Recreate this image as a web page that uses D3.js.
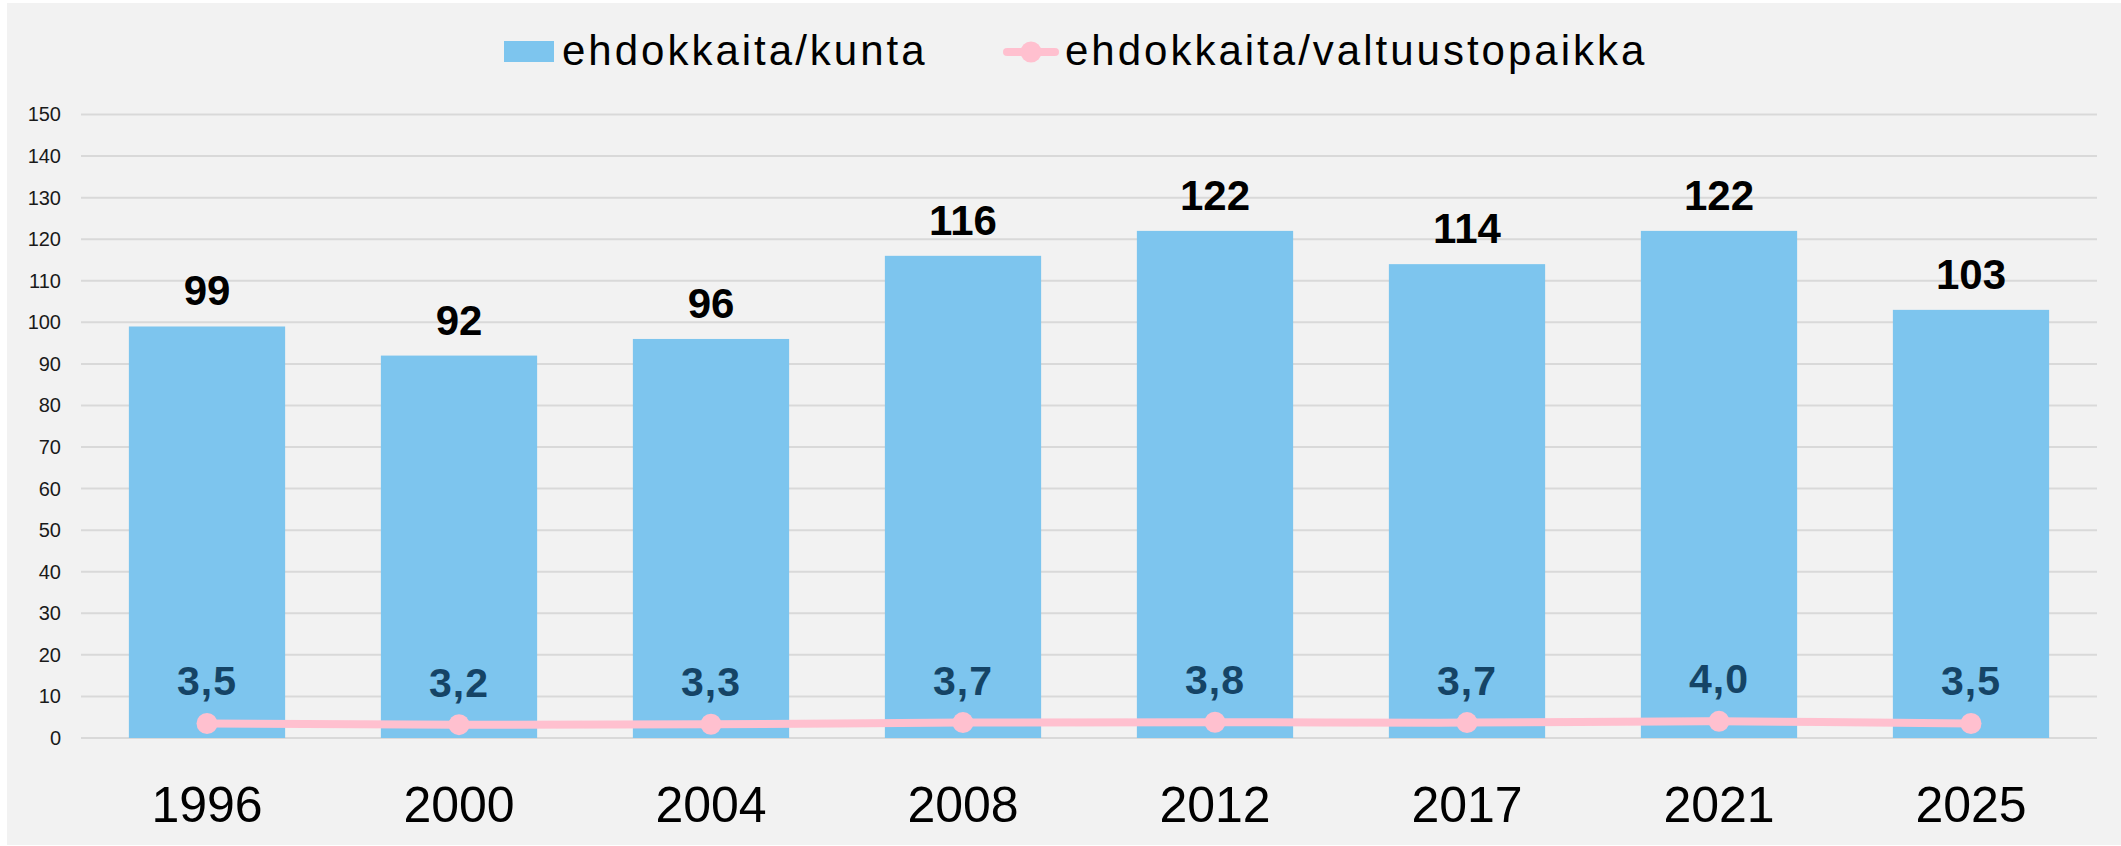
<!DOCTYPE html>
<html>
<head>
<meta charset="utf-8">
<script src="https://cdn.jsdelivr.net/npm/d3@7"></script>
<style>
  html, body { margin: 0; padding: 0; background: #ffffff; }
  svg { display: block; font-family: "Liberation Sans", Arial, sans-serif; }
</style>
</head>
<body>
<svg id="chart"></svg>
<script>
// data
const years = ['1996', '2000', '2004', '2008', '2012', '2017', '2021', '2025'];
const perMunicipality = [99, 92, 96, 116, 122, 114, 122, 103];
const perSeat = [3.5, 3.2, 3.3, 3.7, 3.8, 3.7, 4.0, 3.5];
const yTicks = [0, 10, 20, 30, 40, 50, 60, 70, 80, 90, 100, 110, 120, 130, 140, 150];
const seriesNames = ['ehdokkaita/kunta', 'ehdokkaita/valtuustopaikka'];

const W = 2121, H = 846;
const barColor = '#7dc5ee';
const lineColor = '#ffc0cf';
const seatLabelColor = '#154466';

const fi = d3.formatLocale({decimal: ',', thousands: ' ', grouping: [3], currency: ['', ' €']});
const fmt1 = fi.format('.1f');

const svg = d3.select('#chart')
    .attr('width', W)
    .attr('height', H);

// background panel
svg.append('rect')
    .attr('x', 7)
    .attr('y', 3)
    .attr('width', W - 7)
    .attr('height', H - 4)
    .attr('fill', '#f2f2f2');

const xscale = d3.scaleBand()
    .domain(years)
    .range([81, 2097])
    .paddingInner(0.38)
    .paddingOuter(0.19);

const yscale = d3.scaleLinear()
    .domain([0, 150])
    .range([738, 114.5]);

// gridlines
svg.append('g')
    .selectAll('line')
    .data(yTicks)
    .join('line')
    .attr('x1', 81)
    .attr('x2', 2097)
    .attr('y1', d => yscale(d))
    .attr('y2', d => yscale(d))
    .attr('stroke', '#d9d9d9')
    .attr('stroke-width', 2);

// y axis labels
const yaxis = d3.axisLeft(yscale)
    .tickValues(yTicks)
    .tickSize(0)
    .tickPadding(20);

const yaxis_group = svg.append('g')
    .attr('transform', 'translate(81, 0)')
    .call(yaxis);
yaxis_group.select('.domain').remove();
yaxis_group.selectAll('text')
    .attr('font-size', 20)
    .attr('font-family', '"Liberation Sans", Arial, sans-serif')
    .attr('fill', '#1a1a1a');

// x axis labels
const xaxis = d3.axisBottom(xscale)
    .tickSize(0)
    .tickPadding(48);

const xaxis_group = svg.append('g')
    .attr('transform', `translate(0, ${yscale(0)})`)
    .call(xaxis);
xaxis_group.select('.domain').remove();
xaxis_group.selectAll('text')
    .attr('font-size', 50)
    .attr('font-family', '"Liberation Sans", Arial, sans-serif')
    .attr('fill', '#000');

// bars
const barData = years.map((y, i) => ({year: y, value: perMunicipality[i]}));
svg.append('g')
    .selectAll('rect')
    .data(barData)
    .join('rect')
    .attr('x', d => xscale(d.year))
    .attr('y', d => yscale(d.value))
    .attr('width', xscale.bandwidth())
    .attr('height', d => yscale(0) - yscale(d.value))
    .attr('fill', barColor);

svg.append('g')
    .selectAll('text')
    .data(barData)
    .join('text')
    .attr('x', d => xscale(d.year) + xscale.bandwidth() / 2)
    .attr('y', d => yscale(d.value) - 21)
    .attr('text-anchor', 'middle')
    .attr('font-size', 42)
    .attr('font-weight', 'bold')
    .attr('fill', '#000')
    .text(d => d.value);

// line
const lineData = years.map((y, i) => ({year: y, value: perSeat[i]}));
const cx = d => xscale(d.year) + xscale.bandwidth() / 2;

const line = d3.line()
    .x(cx)
    .y(d => yscale(d.value))
    .curve(d3.curveCatmullRom.alpha(0.5));

svg.append('path')
    .attr('d', line(lineData))
    .attr('fill', 'none')
    .attr('stroke', lineColor)
    .attr('stroke-width', 8)
    .attr('stroke-linecap', 'round');

svg.append('g')
    .selectAll('circle')
    .data(lineData)
    .join('circle')
    .attr('cx', cx)
    .attr('cy', d => yscale(d.value))
    .attr('r', 10.5)
    .attr('fill', lineColor);

svg.append('g')
    .selectAll('text')
    .data(lineData)
    .join('text')
    .attr('x', cx)
    .attr('y', d => yscale(d.value) - 28)
    .attr('text-anchor', 'middle')
    .attr('font-size', 41)
    .attr('font-weight', 'bold')
    .attr('letter-spacing', 1)
    .attr('fill', seatLabelColor)
    .text(d => fmt1(d.value));

// legend
const legend = svg.append('g');
legend.append('rect')
    .attr('x', 504)
    .attr('y', 41)
    .attr('width', 50)
    .attr('height', 21)
    .attr('fill', barColor);
legend.append('text')
    .attr('x', 562)
    .attr('y', 65)
    .attr('font-size', 42)
    .attr('letter-spacing', 3)
    .attr('fill', '#000')
    .text(seriesNames[0]);

legend.append('line')
    .attr('x1', 1007)
    .attr('x2', 1055)
    .attr('y1', 52)
    .attr('y2', 52)
    .attr('stroke', lineColor)
    .attr('stroke-width', 8)
    .attr('stroke-linecap', 'round');
legend.append('circle')
    .attr('cx', 1031)
    .attr('cy', 52)
    .attr('r', 10.5)
    .attr('fill', lineColor);
legend.append('text')
    .attr('x', 1065)
    .attr('y', 65)
    .attr('font-size', 42)
    .attr('letter-spacing', 3)
    .attr('fill', '#000')
    .text(seriesNames[1]);
</script>
</body>
</html>
